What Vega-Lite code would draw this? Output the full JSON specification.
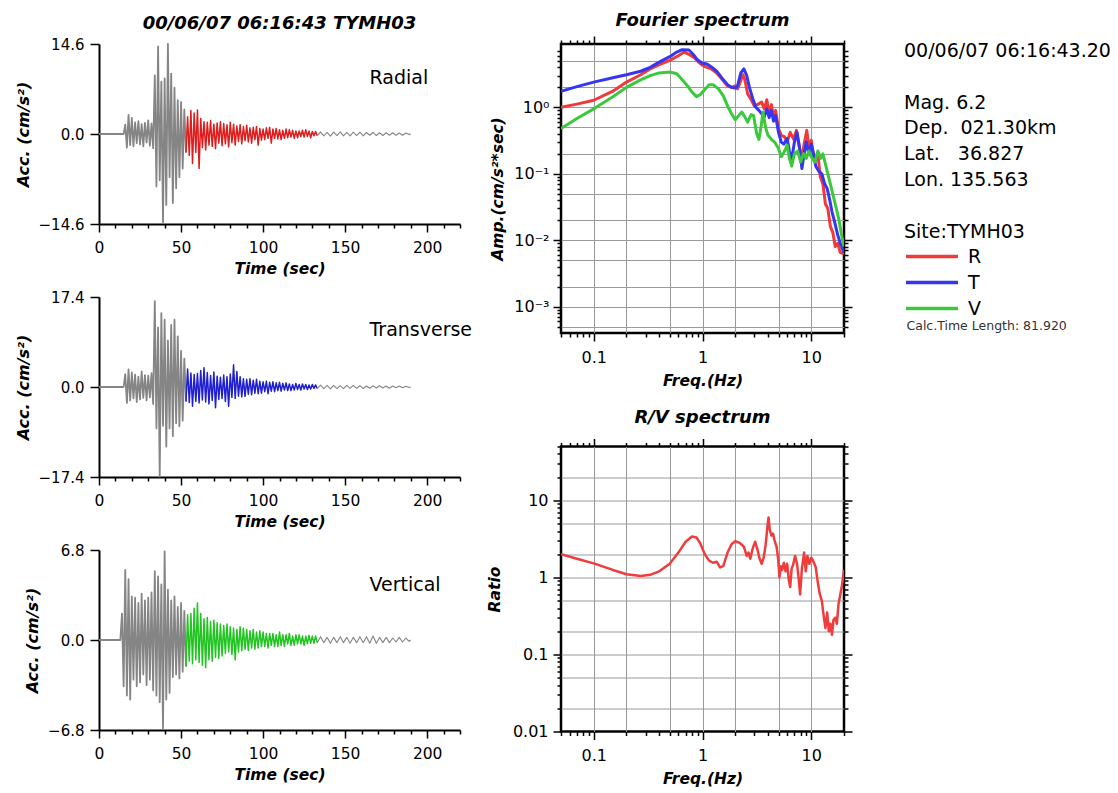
{
"$schema": "https://vega.github.io/schema/vega-lite/v6.json",
"background": "white",
"padding": {"left": 15, "top": 11, "right": 2, "bottom": 2},
"config": {
 "font": "DejaVu Sans",
 "view": {"stroke": null},
 "axis": {"labelFont": "DejaVu Sans", "titleFont": "DejaVu Sans", "labelColor": "black", "titleColor": "black", "domainColor": "black", "tickColor": "black", "gridColor": "#9a9a9a", "gridWidth": 1},
 "title": {"font": "DejaVu Sans", "color": "black"},
 "legend": {"labelFont": "DejaVu Sans", "titleFont": "DejaVu Sans"},
 "line": {"strokeJoin": "round"}
},
"datasets": {
 "R": [{"t":0,"a":0},{"t":15,"a":0},{"t":16,"a":1.5},{"t":17,"a":-2.2},{"t":18,"a":3.1},{"t":19,"a":-1.8},{"t":20,"a":2.6},{"t":21,"a":-2.0},{"t":22,"a":1.9},{"t":23,"a":-1.5},{"t":24,"a":2.1},{"t":25,"a":-1.7},{"t":26,"a":1.6},{"t":27,"a":-2.0},{"t":28,"a":1.8},{"t":29,"a":-1.4},{"t":30,"a":2.2},{"t":31,"a":-1.9},{"t":32,"a":1.7},{"t":33,"a":-2.3},{"t":34,"a":9.5},{"t":35,"a":-8.5},{"t":36,"a":14.2},{"t":37,"a":-7.5},{"t":38,"a":8.5},{"t":39,"a":-14.4},{"t":40,"a":9.0},{"t":41,"a":-11.5},{"t":42,"a":14.6},{"t":43,"a":-7.0},{"t":44,"a":9.8},{"t":45,"a":-11.2},{"t":46,"a":7.5},{"t":47,"a":-8.8},{"t":48,"a":5.5},{"t":49,"a":-7.0},{"t":50,"a":5.2},{"t":51,"a":-5.6},{"t":52,"a":4.0},{"t":53,"a":-3.0},{"t":54,"a":2.8},{"t":55,"a":-3.5},{"t":56,"a":3.8},{"t":57,"a":-4.8},{"t":58,"a":3.4},{"t":59,"a":-3.0},{"t":60,"a":3.9},{"t":61,"a":-5.6},{"t":62,"a":2.5},{"t":63,"a":-2.2},{"t":64,"a":2.0},{"t":65,"a":-2.6},{"t":66,"a":1.9},{"t":67,"a":-1.8},{"t":68,"a":2.2},{"t":69,"a":-2.0},{"t":70,"a":1.6},{"t":71,"a":-2.4},{"t":72,"a":1.8},{"t":73,"a":-1.5},{"t":74,"a":2.0},{"t":75,"a":-1.9},{"t":76,"a":1.7},{"t":77,"a":-1.6},{"t":78,"a":1.5},{"t":79,"a":-2.1},{"t":80,"a":1.9},{"t":81,"a":-1.4},{"t":82,"a":1.6},{"t":83,"a":-1.8},{"t":84,"a":1.3},{"t":85,"a":-1.2},{"t":86,"a":1.5},{"t":87,"a":-1.6},{"t":88,"a":1.2},{"t":89,"a":-1.1},{"t":90,"a":1.4},{"t":91,"a":-1.3},{"t":92,"a":1.0},{"t":93,"a":-1.5},{"t":94,"a":1.1},{"t":95,"a":-0.9},{"t":96,"a":1.2},{"t":97,"a":-1.8},{"t":98,"a":0.9},{"t":99,"a":-1.0},{"t":100,"a":0.8},{"t":101,"a":-0.9},{"t":102,"a":1.0},{"t":103,"a":-0.7},{"t":104,"a":1.1},{"t":105,"a":-1.5},{"t":106,"a":0.8},{"t":107,"a":-0.7},{"t":108,"a":0.9},{"t":109,"a":-0.8},{"t":110,"a":0.7},{"t":111,"a":-0.9},{"t":112,"a":0.6},{"t":113,"a":-0.7},{"t":114,"a":0.8},{"t":115,"a":-0.6},{"t":116,"a":0.7},{"t":117,"a":-0.5},{"t":118,"a":0.6},{"t":119,"a":-0.7},{"t":120,"a":0.5},{"t":121,"a":-0.6},{"t":122,"a":0.5},{"t":123,"a":-0.4},{"t":124,"a":0.6},{"t":125,"a":-0.5},{"t":126,"a":0.7},{"t":127,"a":-0.4},{"t":128,"a":0.5},{"t":129,"a":-0.6},{"t":130,"a":0.4},{"t":131,"a":-0.3},{"t":132,"a":0.4},{"t":133,"a":-0.3},{"t":135,"a":0.35},{"t":137,"a":-0.3},{"t":139,"a":0.25},{"t":141,"a":-0.35},{"t":143,"a":0.3},{"t":145,"a":-0.25},{"t":147,"a":0.35},{"t":149,"a":-0.3},{"t":151,"a":0.25},{"t":153,"a":-0.3},{"t":155,"a":0.3},{"t":157,"a":-0.25},{"t":159,"a":0.3},{"t":161,"a":-0.3},{"t":163,"a":0.25},{"t":165,"a":-0.2},{"t":167,"a":0.25},{"t":169,"a":-0.25},{"t":171,"a":0.2},{"t":173,"a":-0.25},{"t":175,"a":0.2},{"t":177,"a":-0.2},{"t":179,"a":0.2},{"t":181,"a":-0.2},{"t":183,"a":0.15},{"t":185,"a":-0.2},{"t":187,"a":0.15},{"t":189,"a":-0.1},{"t":190,"a":0}],
 "T": [{"t":0,"a":0},{"t":15,"a":0},{"t":16,"a":2.5},{"t":17,"a":-3.1},{"t":18,"a":3.4},{"t":19,"a":-2.6},{"t":20,"a":2.8},{"t":21,"a":-2.2},{"t":22,"a":2.4},{"t":23,"a":-2.9},{"t":24,"a":2.0},{"t":25,"a":-2.4},{"t":26,"a":3.0},{"t":27,"a":-2.1},{"t":28,"a":2.3},{"t":29,"a":-2.6},{"t":30,"a":2.2},{"t":31,"a":-2.0},{"t":32,"a":2.7},{"t":33,"a":-3.3},{"t":34,"a":16.6},{"t":35,"a":-8.0},{"t":36,"a":11.5},{"t":37,"a":-17.3},{"t":38,"a":14.3},{"t":39,"a":-7.5},{"t":40,"a":13.0},{"t":41,"a":-11.5},{"t":42,"a":9.0},{"t":43,"a":-8.0},{"t":44,"a":12.0},{"t":45,"a":-9.5},{"t":46,"a":13.0},{"t":47,"a":-7.0},{"t":48,"a":9.8},{"t":49,"a":-7.6},{"t":50,"a":7.0},{"t":51,"a":-6.5},{"t":52,"a":5.5},{"t":53,"a":-2.8},{"t":54,"a":3.5},{"t":55,"a":-3.0},{"t":56,"a":2.7},{"t":57,"a":-3.7},{"t":58,"a":2.4},{"t":59,"a":-2.8},{"t":60,"a":2.6},{"t":61,"a":-3.1},{"t":62,"a":3.2},{"t":63,"a":-2.5},{"t":64,"a":3.7},{"t":65,"a":-2.9},{"t":66,"a":2.8},{"t":67,"a":-3.3},{"t":68,"a":2.2},{"t":69,"a":-2.6},{"t":70,"a":2.9},{"t":71,"a":-4.0},{"t":72,"a":2.1},{"t":73,"a":-2.4},{"t":74,"a":1.9},{"t":75,"a":-2.2},{"t":76,"a":2.3},{"t":77,"a":-2.8},{"t":78,"a":2.0},{"t":79,"a":-3.7},{"t":80,"a":2.5},{"t":81,"a":-2.0},{"t":82,"a":4.3},{"t":83,"a":-2.2},{"t":84,"a":3.0},{"t":85,"a":-1.8},{"t":86,"a":2.0},{"t":87,"a":-1.9},{"t":88,"a":1.6},{"t":89,"a":-1.8},{"t":90,"a":1.5},{"t":91,"a":-1.4},{"t":92,"a":1.6},{"t":93,"a":-1.5},{"t":94,"a":1.3},{"t":95,"a":-1.2},{"t":96,"a":1.5},{"t":97,"a":-1.3},{"t":98,"a":1.1},{"t":99,"a":-1.2},{"t":100,"a":1.0},{"t":101,"a":-0.9},{"t":102,"a":1.1},{"t":103,"a":-1.3},{"t":104,"a":0.9},{"t":105,"a":-0.8},{"t":106,"a":1.0},{"t":107,"a":-0.9},{"t":108,"a":0.8},{"t":109,"a":-0.7},{"t":110,"a":0.9},{"t":111,"a":-0.8},{"t":112,"a":0.7},{"t":113,"a":-0.6},{"t":114,"a":0.8},{"t":115,"a":-0.7},{"t":116,"a":0.6},{"t":117,"a":-0.7},{"t":118,"a":0.5},{"t":119,"a":-0.6},{"t":120,"a":0.7},{"t":121,"a":-0.5},{"t":122,"a":0.5},{"t":123,"a":-0.6},{"t":124,"a":0.6},{"t":125,"a":-0.4},{"t":126,"a":0.5},{"t":127,"a":-0.5},{"t":128,"a":0.4},{"t":129,"a":-0.4},{"t":130,"a":0.5},{"t":131,"a":-0.3},{"t":132,"a":0.4},{"t":133,"a":-0.3},{"t":135,"a":0.35},{"t":137,"a":-0.3},{"t":139,"a":0.3},{"t":141,"a":-0.35},{"t":143,"a":0.3},{"t":145,"a":-0.3},{"t":147,"a":0.25},{"t":149,"a":-0.3},{"t":151,"a":0.3},{"t":153,"a":-0.25},{"t":155,"a":0.3},{"t":157,"a":-0.25},{"t":159,"a":0.25},{"t":161,"a":-0.3},{"t":163,"a":0.2},{"t":165,"a":-0.25},{"t":167,"a":0.25},{"t":169,"a":-0.2},{"t":171,"a":0.25},{"t":173,"a":-0.2},{"t":175,"a":0.2},{"t":177,"a":-0.25},{"t":179,"a":0.2},{"t":181,"a":-0.15},{"t":183,"a":0.2},{"t":185,"a":-0.15},{"t":187,"a":0.15},{"t":189,"a":-0.1},{"t":190,"a":0}],
 "V": [{"t":0,"a":0},{"t":13,"a":0},{"t":14,"a":2.0},{"t":15,"a":-3.5},{"t":16,"a":5.3},{"t":17,"a":-4.2},{"t":18,"a":4.6},{"t":19,"a":-4.5},{"t":20,"a":3.3},{"t":21,"a":-3.0},{"t":22,"a":3.2},{"t":23,"a":-3.5},{"t":24,"a":2.8},{"t":25,"a":-3.2},{"t":26,"a":3.5},{"t":27,"a":-2.6},{"t":28,"a":3.0},{"t":29,"a":-3.4},{"t":30,"a":3.2},{"t":31,"a":-3.0},{"t":32,"a":3.6},{"t":33,"a":-3.8},{"t":34,"a":5.2},{"t":35,"a":-4.2},{"t":36,"a":4.8},{"t":37,"a":-4.7},{"t":38,"a":4.2},{"t":39,"a":-6.7},{"t":40,"a":6.7},{"t":41,"a":-4.5},{"t":42,"a":3.8},{"t":43,"a":-4.0},{"t":44,"a":3.0},{"t":45,"a":-2.8},{"t":46,"a":3.3},{"t":47,"a":-2.6},{"t":48,"a":2.5},{"t":49,"a":-2.9},{"t":50,"a":2.8},{"t":51,"a":-2.4},{"t":52,"a":2.2},{"t":53,"a":-2.0},{"t":54,"a":1.9},{"t":55,"a":-1.6},{"t":56,"a":2.0},{"t":57,"a":-1.8},{"t":58,"a":2.4},{"t":59,"a":-1.5},{"t":60,"a":2.8},{"t":61,"a":-1.7},{"t":62,"a":2.0},{"t":63,"a":-1.9},{"t":64,"a":1.6},{"t":65,"a":-2.1},{"t":66,"a":1.7},{"t":67,"a":-1.5},{"t":68,"a":1.4},{"t":69,"a":-1.6},{"t":70,"a":1.5},{"t":71,"a":-1.3},{"t":72,"a":1.3},{"t":73,"a":-1.4},{"t":74,"a":1.2},{"t":75,"a":-1.2},{"t":76,"a":1.1},{"t":77,"a":-1.0},{"t":78,"a":1.2},{"t":79,"a":-0.9},{"t":80,"a":1.0},{"t":81,"a":-1.1},{"t":82,"a":0.9},{"t":83,"a":-1.5},{"t":84,"a":0.8},{"t":85,"a":-0.9},{"t":86,"a":1.0},{"t":87,"a":-0.8},{"t":88,"a":0.9},{"t":89,"a":-0.7},{"t":90,"a":0.8},{"t":91,"a":-0.8},{"t":92,"a":0.7},{"t":93,"a":-0.6},{"t":94,"a":0.8},{"t":95,"a":-0.7},{"t":96,"a":0.6},{"t":97,"a":-0.6},{"t":98,"a":0.7},{"t":99,"a":-0.5},{"t":100,"a":0.6},{"t":101,"a":-0.5},{"t":102,"a":0.5},{"t":103,"a":-0.6},{"t":104,"a":0.5},{"t":105,"a":-0.4},{"t":106,"a":0.5},{"t":107,"a":-0.5},{"t":108,"a":0.4},{"t":109,"a":-0.5},{"t":110,"a":0.6},{"t":111,"a":-0.4},{"t":112,"a":0.4},{"t":113,"a":-0.5},{"t":114,"a":0.4},{"t":115,"a":-0.3},{"t":116,"a":0.5},{"t":117,"a":-0.4},{"t":118,"a":0.3},{"t":119,"a":-0.4},{"t":120,"a":0.4},{"t":121,"a":-0.3},{"t":122,"a":0.4},{"t":123,"a":-0.3},{"t":124,"a":0.3},{"t":125,"a":-0.4},{"t":126,"a":0.3},{"t":127,"a":-0.3},{"t":128,"a":0.35},{"t":129,"a":-0.25},{"t":130,"a":0.3},{"t":131,"a":-0.25},{"t":132,"a":0.3},{"t":133,"a":-0.2},{"t":135,"a":0.25},{"t":137,"a":-0.2},{"t":139,"a":0.2},{"t":141,"a":-0.25},{"t":143,"a":0.2},{"t":145,"a":-0.2},{"t":147,"a":0.25},{"t":149,"a":-0.2},{"t":151,"a":0.2},{"t":153,"a":-0.25},{"t":155,"a":0.2},{"t":157,"a":-0.2},{"t":159,"a":0.25},{"t":161,"a":-0.2},{"t":163,"a":0.25},{"t":165,"a":-0.25},{"t":167,"a":0.3},{"t":169,"a":-0.25},{"t":171,"a":0.2},{"t":173,"a":-0.2},{"t":175,"a":0.2},{"t":177,"a":-0.2},{"t":179,"a":0.15},{"t":181,"a":-0.15},{"t":183,"a":0.2},{"t":185,"a":-0.15},{"t":187,"a":0.15},{"t":189,"a":-0.1},{"t":190,"a":0}],
 "spec": [
  {"c":"R","f":0.05,"A":1.0},{"c":"R","f":0.07,"A":1.12},{"c":"R","f":0.1,"A":1.28},{"c":"R","f":0.15,"A":1.75},{"c":"R","f":0.2,"A":2.4},{"c":"R","f":0.27,"A":3.1},{"c":"R","f":0.33,"A":3.8},{"c":"R","f":0.4,"A":4.4},{"c":"R","f":0.5,"A":5.1},{"c":"R","f":0.6,"A":6.0},{"c":"R","f":0.68,"A":6.8},{"c":"R","f":0.75,"A":6.3},{"c":"R","f":0.84,"A":5.6},{"c":"R","f":0.92,"A":4.8},{"c":"R","f":1.0,"A":4.3},{"c":"R","f":1.1,"A":4.0},{"c":"R","f":1.2,"A":3.8},{"c":"R","f":1.35,"A":3.3},{"c":"R","f":1.5,"A":2.7},{"c":"R","f":1.7,"A":2.1},{"c":"R","f":1.85,"A":2.0},{"c":"R","f":2.0,"A":2.1},{"c":"R","f":2.1,"A":1.9},{"c":"R","f":2.2,"A":2.3},{"c":"R","f":2.35,"A":3.1},{"c":"R","f":2.45,"A":2.6},{"c":"R","f":2.6,"A":1.6},{"c":"R","f":2.8,"A":1.3},{"c":"R","f":3.0,"A":1.05},{"c":"R","f":3.2,"A":1.1},{"c":"R","f":3.5,"A":1.2},{"c":"R","f":3.7,"A":0.95},{"c":"R","f":3.9,"A":1.3},{"c":"R","f":4.1,"A":0.8},{"c":"R","f":4.3,"A":1.1},{"c":"R","f":4.5,"A":0.7},{"c":"R","f":4.7,"A":0.9},{"c":"R","f":5.0,"A":0.48},{"c":"R","f":5.3,"A":0.38},{"c":"R","f":5.7,"A":0.36},{"c":"R","f":6.0,"A":0.3},{"c":"R","f":6.4,"A":0.42},{"c":"R","f":6.9,"A":0.33},{"c":"R","f":7.3,"A":0.45},{"c":"R","f":7.6,"A":0.3},{"c":"R","f":8.0,"A":0.2},{"c":"R","f":8.2,"A":0.17},{"c":"R","f":8.6,"A":0.28},{"c":"R","f":9.1,"A":0.45},{"c":"R","f":9.5,"A":0.25},{"c":"R","f":10,"A":0.32},{"c":"R","f":10.5,"A":0.18},{"c":"R","f":11,"A":0.16},{"c":"R","f":11.5,"A":0.2},{"c":"R","f":12.1,"A":0.09},{"c":"R","f":12.8,"A":0.07},{"c":"R","f":13.5,"A":0.035},{"c":"R","f":14.2,"A":0.03},{"c":"R","f":15,"A":0.016},{"c":"R","f":15.8,"A":0.013},{"c":"R","f":16.6,"A":0.008},{"c":"R","f":17.5,"A":0.009},{"c":"R","f":18.5,"A":0.0065},{"c":"R","f":20,"A":0.0062},
  {"c":"T","f":0.05,"A":1.75},{"c":"T","f":0.07,"A":2.05},{"c":"T","f":0.1,"A":2.4},{"c":"T","f":0.15,"A":2.8},{"c":"T","f":0.2,"A":3.1},{"c":"T","f":0.27,"A":3.5},{"c":"T","f":0.33,"A":4.0},{"c":"T","f":0.4,"A":4.8},{"c":"T","f":0.5,"A":5.8},{"c":"T","f":0.58,"A":6.8},{"c":"T","f":0.65,"A":7.4},{"c":"T","f":0.75,"A":7.3},{"c":"T","f":0.82,"A":6.3},{"c":"T","f":0.9,"A":5.2},{"c":"T","f":1.0,"A":4.6},{"c":"T","f":1.1,"A":4.5},{"c":"T","f":1.2,"A":4.1},{"c":"T","f":1.35,"A":3.5},{"c":"T","f":1.5,"A":2.8},{"c":"T","f":1.7,"A":2.2},{"c":"T","f":1.85,"A":2.0},{"c":"T","f":2.0,"A":1.95},{"c":"T","f":2.1,"A":2.1},{"c":"T","f":2.25,"A":3.3},{"c":"T","f":2.4,"A":3.8},{"c":"T","f":2.55,"A":3.0},{"c":"T","f":2.7,"A":2.0},{"c":"T","f":2.9,"A":1.35},{"c":"T","f":3.1,"A":1.0},{"c":"T","f":3.3,"A":0.9},{"c":"T","f":3.5,"A":0.8},{"c":"T","f":3.7,"A":0.72},{"c":"T","f":3.9,"A":0.95},{"c":"T","f":4.1,"A":0.7},{"c":"T","f":4.3,"A":0.9},{"c":"T","f":4.5,"A":0.62},{"c":"T","f":4.7,"A":0.75},{"c":"T","f":5.0,"A":0.42},{"c":"T","f":5.3,"A":0.3},{"c":"T","f":5.6,"A":0.28},{"c":"T","f":6.0,"A":0.34},{"c":"T","f":6.3,"A":0.22},{"c":"T","f":6.6,"A":0.16},{"c":"T","f":7.0,"A":0.3},{"c":"T","f":7.4,"A":0.42},{"c":"T","f":7.8,"A":0.25},{"c":"T","f":8.2,"A":0.12},{"c":"T","f":8.6,"A":0.2},{"c":"T","f":9.0,"A":0.3},{"c":"T","f":9.5,"A":0.2},{"c":"T","f":10,"A":0.28},{"c":"T","f":10.5,"A":0.2},{"c":"T","f":11,"A":0.13},{"c":"T","f":11.7,"A":0.11},{"c":"T","f":12.5,"A":0.1},{"c":"T","f":13.3,"A":0.07},{"c":"T","f":14,"A":0.06},{"c":"T","f":14.8,"A":0.04},{"c":"T","f":15.5,"A":0.027},{"c":"T","f":16.5,"A":0.018},{"c":"T","f":17.5,"A":0.012},{"c":"T","f":18.5,"A":0.009},{"c":"T","f":20,"A":0.0065},
  {"c":"V","f":0.05,"A":0.48},{"c":"V","f":0.07,"A":0.68},{"c":"V","f":0.1,"A":0.95},{"c":"V","f":0.15,"A":1.45},{"c":"V","f":0.2,"A":2.0},{"c":"V","f":0.27,"A":2.6},{"c":"V","f":0.33,"A":3.0},{"c":"V","f":0.4,"A":3.3},{"c":"V","f":0.5,"A":3.4},{"c":"V","f":0.58,"A":3.2},{"c":"V","f":0.65,"A":2.6},{"c":"V","f":0.73,"A":2.1},{"c":"V","f":0.8,"A":1.7},{"c":"V","f":0.88,"A":1.45},{"c":"V","f":0.95,"A":1.55},{"c":"V","f":1.05,"A":1.85},{"c":"V","f":1.15,"A":2.2},{"c":"V","f":1.25,"A":2.2},{"c":"V","f":1.4,"A":1.9},{"c":"V","f":1.55,"A":1.5},{"c":"V","f":1.7,"A":1.05},{"c":"V","f":1.85,"A":0.8},{"c":"V","f":2.0,"A":0.65},{"c":"V","f":2.15,"A":0.75},{"c":"V","f":2.3,"A":0.85},{"c":"V","f":2.45,"A":0.72},{"c":"V","f":2.6,"A":0.6},{"c":"V","f":2.8,"A":0.78},{"c":"V","f":2.95,"A":0.75},{"c":"V","f":3.15,"A":0.4},{"c":"V","f":3.3,"A":0.33},{"c":"V","f":3.45,"A":0.5},{"c":"V","f":3.6,"A":0.85},{"c":"V","f":3.8,"A":0.5},{"c":"V","f":4.0,"A":0.38},{"c":"V","f":4.3,"A":0.33},{"c":"V","f":4.6,"A":0.3},{"c":"V","f":5.0,"A":0.24},{"c":"V","f":5.3,"A":0.18},{"c":"V","f":5.7,"A":0.22},{"c":"V","f":6.0,"A":0.27},{"c":"V","f":6.3,"A":0.17},{"c":"V","f":6.6,"A":0.13},{"c":"V","f":7.0,"A":0.2},{"c":"V","f":7.5,"A":0.22},{"c":"V","f":8.0,"A":0.15},{"c":"V","f":8.5,"A":0.2},{"c":"V","f":9.0,"A":0.17},{"c":"V","f":9.5,"A":0.22},{"c":"V","f":10,"A":0.18},{"c":"V","f":10.8,"A":0.15},{"c":"V","f":11.5,"A":0.22},{"c":"V","f":12.2,"A":0.17},{"c":"V","f":12.8,"A":0.2},{"c":"V","f":13.5,"A":0.14},{"c":"V","f":14.2,"A":0.1},{"c":"V","f":15,"A":0.07},{"c":"V","f":16,"A":0.045},{"c":"V","f":17,"A":0.03},{"c":"V","f":18,"A":0.02},{"c":"V","f":19,"A":0.012},{"c":"V","f":20,"A":0.008}
 ],
 "rv": [{"f":0.05,"r":2.0},{"f":0.07,"r":1.75},{"f":0.1,"r":1.52},{"f":0.15,"r":1.25},{"f":0.2,"r":1.1},{"f":0.27,"r":1.04},{"f":0.33,"r":1.08},{"f":0.4,"r":1.2},{"f":0.5,"r":1.5},{"f":0.6,"r":2.1},{"f":0.7,"r":2.9},{"f":0.8,"r":3.4},{"f":0.88,"r":3.3},{"f":0.95,"r":2.8},{"f":1.05,"r":2.0},{"f":1.15,"r":1.65},{"f":1.25,"r":1.55},{"f":1.35,"r":1.6},{"f":1.45,"r":1.35},{"f":1.55,"r":1.4},{"f":1.7,"r":2.1},{"f":1.85,"r":2.7},{"f":2.0,"r":2.95},{"f":2.2,"r":2.8},{"f":2.4,"r":2.5},{"f":2.55,"r":1.9},{"f":2.65,"r":2.1},{"f":2.75,"r":1.75},{"f":2.9,"r":2.4},{"f":3.05,"r":2.9},{"f":3.2,"r":2.3},{"f":3.35,"r":1.75},{"f":3.5,"r":1.5},{"f":3.65,"r":1.8},{"f":3.8,"r":2.6},{"f":3.95,"r":4.5},{"f":4.05,"r":6.0},{"f":4.15,"r":4.2},{"f":4.3,"r":3.5},{"f":4.45,"r":3.7},{"f":4.6,"r":3.0},{"f":4.8,"r":2.5},{"f":4.95,"r":1.8},{"f":5.1,"r":1.0},{"f":5.25,"r":1.4},{"f":5.4,"r":1.25},{"f":5.6,"r":1.55},{"f":5.8,"r":1.2},{"f":6.0,"r":1.5},{"f":6.2,"r":0.95},{"f":6.4,"r":0.75},{"f":6.6,"r":1.3},{"f":6.8,"r":1.45},{"f":7.1,"r":1.9},{"f":7.4,"r":1.5},{"f":7.7,"r":0.9},{"f":7.9,"r":0.6},{"f":8.2,"r":1.3},{"f":8.6,"r":2.1},{"f":8.9,"r":1.2},{"f":9.2,"r":1.9},{"f":9.6,"r":1.5},{"f":10,"r":1.8},{"f":10.5,"r":1.6},{"f":11,"r":1.35},{"f":11.5,"r":0.85},{"f":12,"r":0.6},{"f":12.5,"r":0.5},{"f":13,"r":0.32},{"f":13.5,"r":0.22},{"f":14,"r":0.35},{"f":14.5,"r":0.2},{"f":15,"r":0.25},{"f":15.5,"r":0.18},{"f":16,"r":0.28},{"f":16.6,"r":0.3},{"f":17.2,"r":0.25},{"f":17.8,"r":0.45},{"f":18.5,"r":0.6},{"f":19.2,"r":0.8},{"f":20,"r":1.25}]
},
"spacing": 14,
"bounds": "full",
"hconcat": [
 {
  "spacing": 73,
  "bounds": "flush",
  "vconcat": [
   {
    "width": 361, "height": 180,
    "title": {"text": "00/06/07 06:16:43 TYMH03", "anchor": "middle", "frame": "group", "offset": -10, "fontSize": 18, "fontWeight": "bold", "fontStyle": "italic", "baseline": "alphabetic"},
    "data": {"name": "R"},
    "encoding": {
     "y": {"field": "a", "type": "quantitative", "scale": {"domain": [-14.6, 14.6], "nice": false},
      "axis": {"values": [-14.6, 0, 14.6], "format": ".1f", "tickSize": 9, "tickWidth": 1.5, "domainWidth": 2, "grid": false, "labelFontSize": 15, "labelPadding": 6, "title": "Acc. (cm/s²)", "titleFontSize": 16, "titleFontWeight": "bold", "titleFontStyle": "italic", "titlePadding": 7}}
    },
    "resolve": {"axis": {"x": "independent"}},
    "layer": [
     {"transform": [{"filter": "datum.t <= 53"}], "mark": {"type": "line", "color": "#858585", "strokeWidth": 1.8},
      "encoding": {"x": {"field": "t", "type": "quantitative", "scale": {"domain": [0, 220], "nice": false, "zero": false},
       "axis": {"orient": "bottom", "values": [0,10,20,30,40,50,60,70,80,90,100,110,120,130,140,150,160,170,180,190,200,210,220], "labelExpr": "datum.value % 50 === 0 ? datum.label : ''", "tickSize": {"condition": {"test": "datum.value % 50 === 0", "value": 8}, "value": 4}, "tickWidth": 1.5, "domainWidth": 2, "grid": false, "labelFontSize": 15.5, "labelPadding": 8, "labelFlush": false, "labelOverlap": false, "title": "Time (sec)", "titleFontSize": 15.5, "titleFontWeight": "bold", "titleFontStyle": "italic", "titlePadding": 6}}}},
     {"transform": [{"filter": {"field": "t", "range": [53, 133]}}], "mark": {"type": "line", "color": "#dc1e1e", "strokeWidth": 1.5},
      "encoding": {"x": {"field": "t", "type": "quantitative", "scale": {"domain": [0, 220], "nice": false, "zero": false},
       "axis": {"orient": "top", "domain": false, "ticks": false, "labels": false, "grid": false, "title": "Radial", "titleX": 270, "titleY": 39, "titleAngle": 0, "titleAlign": "left", "titleBaseline": "alphabetic", "titleFontSize": 19, "titleFontWeight": "normal", "titleFontStyle": "normal"}}}},
     {"transform": [{"filter": "datum.t >= 133"}], "mark": {"type": "line", "color": "#858585", "strokeWidth": 1.1},
      "encoding": {"x": {"field": "t", "type": "quantitative", "scale": {"domain": [0, 220], "nice": false, "zero": false}, "axis": null}}}
    ]
   },
   {
    "width": 361, "height": 180,
    "data": {"name": "T"},
    "encoding": {
     "y": {"field": "a", "type": "quantitative", "scale": {"domain": [-17.4, 17.4], "nice": false},
      "axis": {"values": [-17.4, 0, 17.4], "format": ".1f", "tickSize": 9, "tickWidth": 1.5, "domainWidth": 2, "grid": false, "labelFontSize": 15, "labelPadding": 6, "title": "Acc. (cm/s²)", "titleFontSize": 16, "titleFontWeight": "bold", "titleFontStyle": "italic", "titlePadding": 7}}
    },
    "resolve": {"axis": {"x": "independent"}},
    "layer": [
     {"transform": [{"filter": "datum.t <= 53"}], "mark": {"type": "line", "color": "#858585", "strokeWidth": 1.8},
      "encoding": {"x": {"field": "t", "type": "quantitative", "scale": {"domain": [0, 220], "nice": false, "zero": false},
       "axis": {"orient": "bottom", "values": [0,10,20,30,40,50,60,70,80,90,100,110,120,130,140,150,160,170,180,190,200,210,220], "labelExpr": "datum.value % 50 === 0 ? datum.label : ''", "tickSize": {"condition": {"test": "datum.value % 50 === 0", "value": 8}, "value": 4}, "tickWidth": 1.5, "domainWidth": 2, "grid": false, "labelFontSize": 15.5, "labelPadding": 8, "labelFlush": false, "labelOverlap": false, "title": "Time (sec)", "titleFontSize": 15.5, "titleFontWeight": "bold", "titleFontStyle": "italic", "titlePadding": 6}}}},
     {"transform": [{"filter": {"field": "t", "range": [53, 133]}}], "mark": {"type": "line", "color": "#1f1fcf", "strokeWidth": 1.5},
      "encoding": {"x": {"field": "t", "type": "quantitative", "scale": {"domain": [0, 220], "nice": false, "zero": false},
       "axis": {"orient": "top", "domain": false, "ticks": false, "labels": false, "grid": false, "title": "Transverse", "titleX": 270, "titleY": 38, "titleAngle": 0, "titleAlign": "left", "titleBaseline": "alphabetic", "titleFontSize": 19, "titleFontWeight": "normal", "titleFontStyle": "normal"}}}},
     {"transform": [{"filter": "datum.t >= 133"}], "mark": {"type": "line", "color": "#858585", "strokeWidth": 1.1},
      "encoding": {"x": {"field": "t", "type": "quantitative", "scale": {"domain": [0, 220], "nice": false, "zero": false}, "axis": null}}}
    ]
   },
   {
    "width": 361, "height": 180,
    "data": {"name": "V"},
    "encoding": {
     "y": {"field": "a", "type": "quantitative", "scale": {"domain": [-6.8, 6.8], "nice": false},
      "axis": {"values": [-6.8, 0, 6.8], "format": ".1f", "tickSize": 9, "tickWidth": 1.5, "domainWidth": 2, "grid": false, "labelFontSize": 15, "labelPadding": 6, "title": "Acc. (cm/s²)", "titleFontSize": 16, "titleFontWeight": "bold", "titleFontStyle": "italic", "titlePadding": 7}}
    },
    "resolve": {"axis": {"x": "independent"}},
    "layer": [
     {"transform": [{"filter": "datum.t <= 53"}], "mark": {"type": "line", "color": "#858585", "strokeWidth": 1.8},
      "encoding": {"x": {"field": "t", "type": "quantitative", "scale": {"domain": [0, 220], "nice": false, "zero": false},
       "axis": {"orient": "bottom", "values": [0,10,20,30,40,50,60,70,80,90,100,110,120,130,140,150,160,170,180,190,200,210,220], "labelExpr": "datum.value % 50 === 0 ? datum.label : ''", "tickSize": {"condition": {"test": "datum.value % 50 === 0", "value": 8}, "value": 4}, "tickWidth": 1.5, "domainWidth": 2, "grid": false, "labelFontSize": 15.5, "labelPadding": 8, "labelFlush": false, "labelOverlap": false, "title": "Time (sec)", "titleFontSize": 15.5, "titleFontWeight": "bold", "titleFontStyle": "italic", "titlePadding": 6}}}},
     {"transform": [{"filter": {"field": "t", "range": [53, 133]}}], "mark": {"type": "line", "color": "#22c422", "strokeWidth": 1.5},
      "encoding": {"x": {"field": "t", "type": "quantitative", "scale": {"domain": [0, 220], "nice": false, "zero": false},
       "axis": {"orient": "top", "domain": false, "ticks": false, "labels": false, "grid": false, "title": "Vertical", "titleX": 270, "titleY": 40, "titleAngle": 0, "titleAlign": "left", "titleBaseline": "alphabetic", "titleFontSize": 19, "titleFontWeight": "normal", "titleFontStyle": "normal"}}}},
     {"transform": [{"filter": "datum.t >= 133"}], "mark": {"type": "line", "color": "#858585", "strokeWidth": 1.1},
      "encoding": {"x": {"field": "t", "type": "quantitative", "scale": {"domain": [0, 220], "nice": false, "zero": false}, "axis": null}}}
    ]
   }
  ]
 },
 {
  "spacing": 113.5,
  "bounds": "flush",
  "vconcat": [
   {
    "width": 283, "height": 289,
    "view": {"stroke": "black", "strokeWidth": 2.5},
    "title": {"text": "Fourier spectrum", "anchor": "middle", "frame": "group", "offset": -9, "fontSize": 18, "fontWeight": "bold", "fontStyle": "italic", "baseline": "alphabetic"},
    "resolve": {"axis": {"x": "independent", "y": "independent"}},
    "layer": [
     {
      "data": {"name": "spec"},
      "mark": {"type": "line", "strokeWidth": 3, "clip": true},
      "encoding": {
       "x": {"field": "f", "type": "quantitative", "scale": {"type": "log", "domain": [0.05, 20], "nice": false},
        "axis": {"orient": "bottom", "values": [0.05,0.06,0.07,0.08,0.09,0.1,0.2,0.3,0.4,0.5,0.6,0.7,0.8,0.9,1,2,3,4,5,6,7,8,9,10,20], "labelExpr": "datum.value === 0.1 ? '0.1' : datum.value === 1 ? '1' : datum.value === 10 ? '10' : ''", "tickSize": {"condition": {"test": "abs(log(datum.value)/LN10 - round(log(datum.value)/LN10)) < 0.001", "value": 8}, "value": 4}, "tickWidth": 1.5, "domain": false, "grid": true, "gridOpacity": {"condition": {"test": "datum.value > 0.051 && datum.value < 19.9 && indexof([1,2,5], round(datum.value / pow(10, floor(log(datum.value)/LN10 + 0.000001)))) >= 0", "value": 1}, "value": 0}, "labelFontSize": 16, "labelPadding": 8, "labelFlush": false, "labelOverlap": false, "title": "Freq.(Hz)", "titleFontSize": 15.5, "titleFontWeight": "bold", "titleFontStyle": "italic", "titlePadding": 8}},
       "y": {"field": "A", "type": "quantitative", "scale": {"type": "log", "domain": [0.0004, 9.0], "nice": false},
        "axis": {"orient": "left", "values": [0.0005,0.0006,0.0007,0.0008,0.0009,0.001,0.002,0.003,0.004,0.005,0.006,0.007,0.008,0.009,0.01,0.02,0.03,0.04,0.05,0.06,0.07,0.08,0.09,0.1,0.2,0.3,0.4,0.5,0.6,0.7,0.8,0.9,1,2,3,4,5,6,7], "labelExpr": "datum.value === 1 ? '10⁰' : datum.value === 0.1 ? '10⁻¹' : datum.value === 0.01 ? '10⁻²' : datum.value === 0.001 ? '10⁻³' : ''", "tickSize": {"condition": {"test": "abs(log(datum.value)/LN10 - round(log(datum.value)/LN10)) < 0.001", "value": 8}, "value": 4}, "tickWidth": 1.5, "domain": false, "grid": true, "gridOpacity": {"condition": {"test": "indexof([1,2,5], round(datum.value / pow(10, floor(log(datum.value)/LN10 + 0.000001)))) >= 0", "value": 1}, "value": 0}, "labelFontSize": 16, "labelPadding": 4, "labelOverlap": false, "title": "Amp.(cm/s²*sec)", "titleFontSize": 15.5, "titleFontWeight": "bold", "titleFontStyle": "italic", "titlePadding": 8}},
       "color": {"field": "c", "type": "nominal", "scale": {"domain": ["R", "T", "V"], "range": ["#f03a3a", "#3636f0", "#3cc83c"]},
        "legend": {"orient": "none", "legendX": 805, "legendY": -2, "direction": "vertical",
         "title": ["00/06/07 06:16:43.20", "\u200b", "Mag. 6.2", "Dep.\u00a0\u00a0021.30km", "Lat.\u00a0\u00a0\u00a036.827", "Lon. 135.563", "\u200b", "Site:TYMH03"],
         "titleFontSize": 19, "titleFontWeight": "normal", "titleLineHeight": 25.8, "titleColor": "black", "titlePadding": 0, "titleAnchor": "start", "titleBaseline": "top", "titleLimit": 400,
         "symbolType": "M-1,0H3", "symbolSize": 676, "symbolStrokeWidth": 3.5, "labelFontSize": 19, "labelOffset": 34, "labelColor": "black", "rowPadding": 1}}
      }
     },
     {
      "data": {"values": []},
      "mark": {"type": "line"},
      "encoding": {
       "x": {"field": "f", "type": "quantitative", "scale": {"type": "log", "domain": [0.05, 20], "nice": false},
        "axis": {"orient": "top", "values": [0.05,0.06,0.07,0.08,0.09,0.1,0.2,0.3,0.4,0.5,0.6,0.7,0.8,0.9,1,2,3,4,5,6,7,8,9,10,20], "labels": false, "title": null, "domain": false, "grid": false, "tickSize": {"condition": {"test": "abs(log(datum.value)/LN10 - round(log(datum.value)/LN10)) < 0.001", "value": 8}, "value": 4}, "tickWidth": 1.5}},
       "y": {"field": "A", "type": "quantitative", "scale": {"type": "log", "domain": [0.0004, 9.0], "nice": false},
        "axis": {"orient": "right", "values": [0.0005,0.0006,0.0007,0.0008,0.0009,0.001,0.002,0.003,0.004,0.005,0.006,0.007,0.008,0.009,0.01,0.02,0.03,0.04,0.05,0.06,0.07,0.08,0.09,0.1,0.2,0.3,0.4,0.5,0.6,0.7,0.8,0.9,1,2,3,4,5,6,7], "labels": false, "domain": false, "grid": false, "tickSize": {"condition": {"test": "abs(log(datum.value)/LN10 - round(log(datum.value)/LN10)) < 0.001", "value": 8}, "value": 4}, "tickWidth": 1.5,
         "title": "Calc.Time Length: 81.920", "titleX": 62, "titleY": 281, "titleAngle": 0, "titleAlign": "left", "titleBaseline": "middle", "titleFontSize": 12.5, "titleFontWeight": "normal", "titleColor": "#333333"}}
      }
     }
    ]
   },
   {
    "width": 283, "height": 285,
    "view": {"stroke": "black", "strokeWidth": 2.5},
    "title": {"text": "R/V spectrum", "anchor": "middle", "frame": "group", "offset": -3, "fontSize": 18, "fontWeight": "bold", "fontStyle": "italic", "baseline": "alphabetic"},
    "resolve": {"axis": {"x": "independent", "y": "independent"}},
    "layer": [
     {
      "data": {"name": "rv"},
      "mark": {"type": "line", "strokeWidth": 2.5, "color": "#f03c3c", "clip": true},
      "encoding": {
       "x": {"field": "f", "type": "quantitative", "scale": {"type": "log", "domain": [0.05, 20], "nice": false},
        "axis": {"orient": "bottom", "values": [0.05,0.06,0.07,0.08,0.09,0.1,0.2,0.3,0.4,0.5,0.6,0.7,0.8,0.9,1,2,3,4,5,6,7,8,9,10,20], "labelExpr": "datum.value === 0.1 ? '0.1' : datum.value === 1 ? '1' : datum.value === 10 ? '10' : ''", "tickSize": {"condition": {"test": "abs(log(datum.value)/LN10 - round(log(datum.value)/LN10)) < 0.001", "value": 8}, "value": 4}, "tickWidth": 1.5, "domain": false, "grid": true, "gridOpacity": {"condition": {"test": "datum.value > 0.051 && datum.value < 19.9 && indexof([1,2,5], round(datum.value / pow(10, floor(log(datum.value)/LN10 + 0.000001)))) >= 0", "value": 1}, "value": 0}, "labelFontSize": 16, "labelPadding": 8, "labelFlush": false, "labelOverlap": false, "title": "Freq.(Hz)", "titleFontSize": 15.5, "titleFontWeight": "bold", "titleFontStyle": "italic", "titlePadding": 8}},
       "y": {"field": "r", "type": "quantitative", "scale": {"type": "log", "domain": [0.01, 50], "nice": false},
        "axis": {"orient": "left", "values": [0.01,0.02,0.03,0.04,0.05,0.06,0.07,0.08,0.09,0.1,0.2,0.3,0.4,0.5,0.6,0.7,0.8,0.9,1,2,3,4,5,6,7,8,9,10,20,30,40,50], "labelExpr": "datum.value === 10 ? '10' : datum.value === 1 ? '1' : datum.value === 0.1 ? '0.1' : datum.value === 0.01 ? '0.01' : ''", "tickSize": {"condition": {"test": "abs(log(datum.value)/LN10 - round(log(datum.value)/LN10)) < 0.001", "value": 8}, "value": 4}, "tickWidth": 1.5, "domain": false, "grid": true, "gridOpacity": {"condition": {"test": "datum.value > 0.0101 && datum.value < 49 && indexof([1,2,5], round(datum.value / pow(10, floor(log(datum.value)/LN10 + 0.000001)))) >= 0", "value": 1}, "value": 0}, "labelFontSize": 16, "labelPadding": 5, "labelOverlap": false, "title": "Ratio", "titleFontSize": 15.5, "titleFontWeight": "bold", "titleFontStyle": "italic", "titlePadding": 10}}
      }
     },
     {
      "data": {"values": []},
      "mark": {"type": "line"},
      "encoding": {
       "x": {"field": "f", "type": "quantitative", "scale": {"type": "log", "domain": [0.05, 20], "nice": false},
        "axis": {"orient": "top", "values": [0.05,0.06,0.07,0.08,0.09,0.1,0.2,0.3,0.4,0.5,0.6,0.7,0.8,0.9,1,2,3,4,5,6,7,8,9,10,20], "labels": false, "title": null, "domain": false, "grid": false, "tickSize": {"condition": {"test": "abs(log(datum.value)/LN10 - round(log(datum.value)/LN10)) < 0.001", "value": 8}, "value": 4}, "tickWidth": 1.5}},
       "y": {"field": "r", "type": "quantitative", "scale": {"type": "log", "domain": [0.01, 50], "nice": false},
        "axis": {"orient": "right", "values": [0.01,0.02,0.03,0.04,0.05,0.06,0.07,0.08,0.09,0.1,0.2,0.3,0.4,0.5,0.6,0.7,0.8,0.9,1,2,3,4,5,6,7,8,9,10,20,30,40,50], "labels": false, "title": null, "domain": false, "grid": false, "tickSize": {"condition": {"test": "abs(log(datum.value)/LN10 - round(log(datum.value)/LN10)) < 0.001", "value": 8}, "value": 4}, "tickWidth": 1.5}}
      }
     }
    ]
   }
  ]
 }
]
}
